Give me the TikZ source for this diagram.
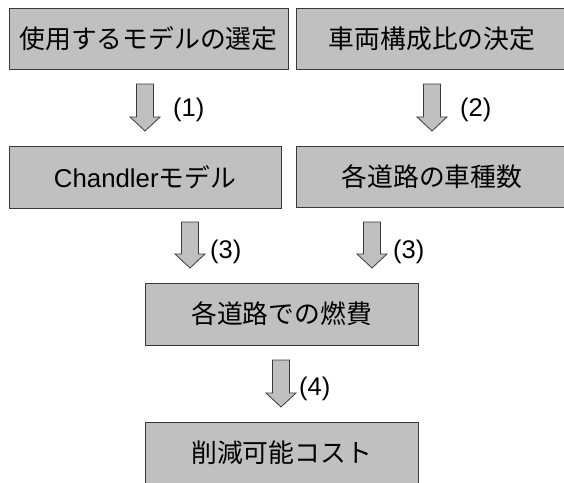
\documentclass[tikz,border=0pt]{standalone}
\usepackage{fontspec}
\setmainfont{Liberation Sans}
\newfontfamily\jp{Noto Sans CJK JP}
\definecolor{boxfill}{HTML}{C0C0C0}
\definecolor{boxline}{HTML}{3A3A3A}
\newcommand\garrow[3]{%
  \draw[garr] (#1-8.5,#2) -- (#1+8.5,#2) -- (#1+8.5,#3-14) -- (#1+15,#3-14)
    -- (#1,#3) -- (#1-15,#3-14) -- (#1-8.5,#3-14) -- cycle;}
\begin{document}
\begin{tikzpicture}[x=1pt,y=-1pt,
  box/.style={draw=boxline, fill=boxfill, line width=0.9pt, inner sep=0pt,
    font=\fontsize{25.8}{30}\selectfont, text=black},
  garr/.style={draw=boxline, fill=boxfill, line width=0.8pt, line join=miter},
  lbl/.style={anchor=west, inner sep=0pt, font=\fontsize{25.5}{30}\selectfont}]
\useasboundingbox (0,0) rectangle (564,482);
\clip (0,0) rectangle (564,482);
\node[box, minimum width=279pt, minimum height=61pt] (b1) at (148.5,38.5) {\jp 使用するモデルの選定};
\node[box, minimum width=272pt, minimum height=61pt] (b2) at (432,38.5) {\jp 車両構成比の決定};
\node[box, minimum width=272pt, minimum height=62pt] (b3) at (145,177) {Chandler{\jp モデル}};
\node[box, minimum width=272pt, minimum height=61pt] (b4) at (432,176.5) {\jp 各道路の車種数};
\node[box, minimum width=273pt, minimum height=62pt] (b5) at (281.5,314) {\jp 各道路での燃費};
\node[box, minimum width=273pt, minimum height=62pt] (b6) at (281.5,453) {\jp 削減可能コスト};
\garrow{145}{84}{131}
\garrow{432}{84}{131}
\garrow{190}{222}{268}
\garrow{372}{222}{268}
\garrow{281}{360}{407}
\node[lbl] (l1) at (173,110) {(1)};
\node[lbl] (l2) at (460,110) {(2)};
\node[lbl] (l3a) at (210,252) {(3)};
\node[lbl] (l3b) at (393,252) {(3)};
\node[lbl] (l4) at (299,389) {(4)};
\end{tikzpicture}
\end{document}
